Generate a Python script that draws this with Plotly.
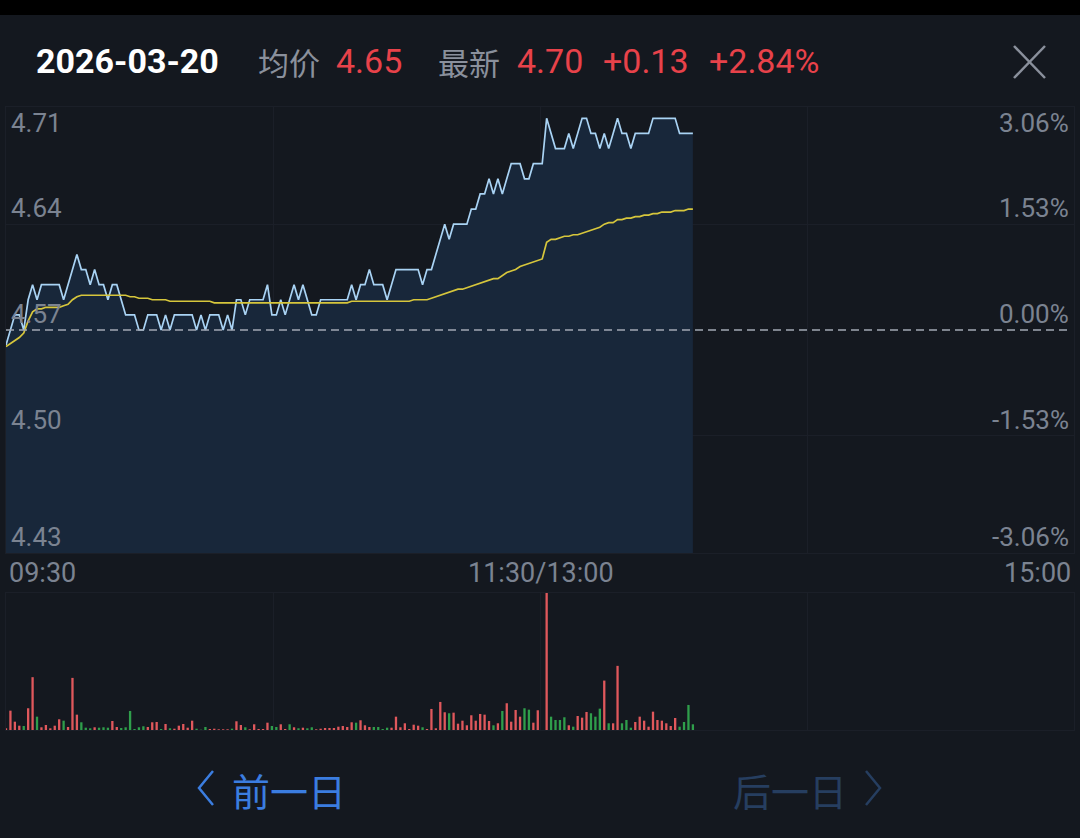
import plotly.graph_objects as go

W, H = 1080, 838


def px(x):
    return x / W


def py(y):
    return 1 - y / H


# ---------------- data ----------------
trade_date = "2026-03-20"
prev_close = 4.57
avg_now = "4.65"
last_price = "4.70"
change_abs = "+0.13"
change_pct = "+2.84%"

left_labels = ["4.71", "4.64", "4.57", "4.50", "4.43"]
right_labels = ["3.06%", "1.53%", "0.00%", "-1.53%", "-3.06%"]
time_labels = ["09:30", "11:30/13:00", "15:00"]

# one value per minute from 09:30 (index 0); 11:30 = 120, 13:00 = 121
price = [
    4.56, 4.57, 4.58, 4.58, 4.57, 4.59, 4.60, 4.59, 4.60, 4.60,
    4.60, 4.60, 4.60, 4.59, 4.60, 4.61, 4.62, 4.61, 4.61, 4.60,
    4.61, 4.60, 4.60, 4.59, 4.60, 4.60, 4.59, 4.58, 4.58, 4.58,
    4.57, 4.57, 4.58, 4.58, 4.58, 4.57, 4.58, 4.57, 4.58, 4.58,
    4.58, 4.58, 4.58, 4.57, 4.58, 4.57, 4.58, 4.58, 4.58, 4.57,
    4.58, 4.57, 4.59, 4.59, 4.58, 4.59, 4.59, 4.59, 4.59, 4.60,
    4.58, 4.58, 4.59, 4.58, 4.59, 4.60, 4.59, 4.60, 4.59, 4.58,
    4.58, 4.59, 4.59, 4.59, 4.59, 4.59, 4.59, 4.59, 4.60, 4.59,
    4.60, 4.60, 4.61, 4.60, 4.60, 4.60, 4.59, 4.60, 4.61, 4.61,
    4.61, 4.61, 4.61, 4.61, 4.60, 4.61, 4.61, 4.62, 4.63, 4.64,
    4.63, 4.64, 4.64, 4.64, 4.64, 4.65, 4.65, 4.66, 4.66, 4.67,
    4.66, 4.67, 4.66, 4.67, 4.68, 4.68, 4.68, 4.67, 4.67, 4.68,
    4.68, 4.68, 4.71, 4.70, 4.69, 4.69, 4.69, 4.70, 4.69, 4.70,
    4.71, 4.71, 4.70, 4.70, 4.69, 4.70, 4.69, 4.70, 4.71, 4.70,
    4.70, 4.69, 4.70, 4.70, 4.70, 4.70, 4.71, 4.71, 4.71, 4.71,
    4.71, 4.71, 4.70, 4.70, 4.70, 4.70,
]

avg_price = [
    4.559, 4.561, 4.563, 4.565, 4.568, 4.576, 4.582, 4.584, 4.584, 4.585,
    4.585, 4.585, 4.585, 4.586, 4.587, 4.590, 4.592, 4.593, 4.593, 4.593,
    4.593, 4.593, 4.593, 4.593, 4.593, 4.593, 4.593, 4.593, 4.592, 4.592,
    4.591, 4.591, 4.591, 4.590, 4.590, 4.590, 4.590, 4.589, 4.589, 4.589,
    4.589, 4.589, 4.589, 4.589, 4.589, 4.589, 4.589, 4.588, 4.588, 4.588,
    4.588, 4.588, 4.588, 4.588, 4.588, 4.588, 4.588, 4.588, 4.588, 4.588,
    4.588, 4.588, 4.588, 4.588, 4.588, 4.588, 4.588, 4.588, 4.588, 4.588,
    4.588, 4.588, 4.588, 4.588, 4.588, 4.588, 4.588, 4.588, 4.589, 4.589,
    4.589, 4.589, 4.589, 4.589, 4.589, 4.589, 4.589, 4.589, 4.589, 4.589,
    4.589, 4.589, 4.590, 4.590, 4.590, 4.590, 4.591, 4.592, 4.593, 4.594,
    4.595, 4.596, 4.597, 4.597, 4.598, 4.599, 4.600, 4.601, 4.602, 4.603,
    4.604, 4.604, 4.606, 4.608, 4.609, 4.610, 4.612, 4.613, 4.614, 4.615,
    4.616, 4.617, 4.628, 4.630, 4.630, 4.631, 4.632, 4.632, 4.633, 4.633,
    4.634, 4.635, 4.636, 4.637, 4.638, 4.640, 4.641, 4.641, 4.643, 4.643,
    4.644, 4.644, 4.645, 4.645, 4.646, 4.646, 4.647, 4.647, 4.648, 4.648,
    4.648, 4.649, 4.649, 4.649, 4.650, 4.650,
]

volume = [
    17, 193, 83, 43, 40, 217, 527, 133, 27, 50,
    17, 43, 107, 93, 30, 520, 153, 77, 23, 17,
    27, 23, 27, 23, 90, 30, 20, 27, 190, 10,
    27, 37, 30, 77, 80, 10, 60, 17, 13, 43,
    60, 23, 93, 13, 3, 30, 10, 13, 7, 7,
    7, 13, 87, 50, 27, 7, 57, 10, 10, 73,
    40, 30, 57, 10, 57, 27, 17, 23, 17, 27,
    7, 13, 20, 20, 20, 33, 40, 30, 77, 73,
    97, 47, 30, 30, 30, 10, 23, 23, 133, 27,
    67, 10, 53, 43, 27, 10, 210, 17, 280, 177,
    167, 173, 63, 93, 47, 147, 93, 160, 153, 90,
    47, 67, 190, 267, 83, 200, 133, 217, 203, 73,
    197, 0, 1367, 133, 100, 100, 127, 47, 33, 140,
    123, 180, 167, 133, 213, 493, 67, 67, 640, 67,
    100, 23, 80, 133, 93, 33, 183, 100, 93, 67,
    40, 120, 33, 80, 250, 57,
]

# R = up minute (red), G = down minute (green)
vol_side = "".join([
    "RRRRGRRGRR", "RRRGRRRGGG", "RGGGRRGGGG", "GGRRRGRGRR", "RRRGGGRRRR",
    "RGRRGRRRRR", "GGRRGRGRGG", "RRRRRRRRRG", "RRRGGGGRRR", "RRRRGRRRRR",
    "GRRRRRRRRR", "GRGRRRRGGR", "RRRGGGGRGR", "RRGGGRGRRG", "GGRRRRRRRR",
    "RRGGGG",
])

minutes = list(range(len(price)))
last_slot = 241  # 242 minute slots: 09:30..11:30 and 13:00..15:00

# ---------------- style ----------------
BG = "#14181f"
GRID = "#1b1f28"
LABEL = "#7b8391"
HEAD_GRAY = "#8a909c"
RED = "#e8424a"
BAR_RED = "#e0585c"
BAR_GREEN = "#2f9e4b"
NUM_FONT = "Roboto, 'DejaVu Sans', sans-serif"
CJK_FONT = "'Noto Sans CJK SC', sans-serif"

half_span = 0.1475

fig = go.Figure()
fig.add_trace(go.Scatter(
    x=minutes, y=price, mode="lines",
    line=dict(color="#a9d3f4", width=1.7),
    fill="tozeroy", fillcolor="#18273a",
    xaxis="x", yaxis="y", hoverinfo="skip",
))
fig.add_trace(go.Scatter(
    x=minutes, y=avg_price, mode="lines",
    line=dict(color="#d6c63c", width=1.7),
    xaxis="x", yaxis="y", hoverinfo="skip",
))
fig.add_trace(go.Bar(
    x=minutes, y=volume,
    marker=dict(color=[BAR_RED if s == "R" else BAR_GREEN for s in vol_side],
                line=dict(width=0)),
    width=0.52, xaxis="x2", yaxis="y2", hoverinfo="skip",
))

grid_x = [last_slot / 4, last_slot / 2, last_slot * 3 / 4]
axis_common = dict(showticklabels=False, zeroline=False, ticks="",
                   showline=True, mirror=True, linecolor=GRID, linewidth=1,
                   gridcolor=GRID, gridwidth=1, fixedrange=True)

fig.update_layout(
    width=W, height=H,
    paper_bgcolor=BG, plot_bgcolor=BG,
    margin=dict(l=0, r=0, t=0, b=0, pad=0),
    showlegend=False,
    hovermode=False,
    xaxis=dict(domain=[px(6), px(1074)], range=[0, last_slot], anchor="y",
               tickvals=grid_x, showgrid=True, **axis_common),
    yaxis=dict(domain=[py(553), py(107)],
               range=[prev_close - half_span, prev_close + half_span],
               anchor="x", tickvals=[prev_close + 0.07, prev_close - 0.07],
               showgrid=True, **axis_common),
    xaxis2=dict(domain=[px(6), px(1074)], range=[0, last_slot], anchor="y2",
                tickvals=grid_x, showgrid=True, **axis_common),
    yaxis2=dict(domain=[py(730), py(593)], range=[0, max(volume)], anchor="x2",
                showgrid=False, **axis_common),
)

shapes = [
    # top status strip
    dict(type="rect", xref="paper", yref="paper", x0=0, x1=1, y0=py(15), y1=1,
         fillcolor="#000000", line=dict(width=0), layer="above"),
    # previous close dashed line
    dict(type="line", xref="paper", yref="y", x0=px(6), x1=px(1070),
         y0=prev_close, y1=prev_close,
         line=dict(color="#a1a8b4", width=1.6, dash="8px,5px"), layer="above"),
    # close icon
    dict(type="line", xref="paper", yref="paper", x0=px(1014), y0=py(46),
         x1=px(1045), y1=py(78), line=dict(color=HEAD_GRAY, width=2.5)),
    dict(type="line", xref="paper", yref="paper", x0=px(1045), y0=py(46),
         x1=px(1014), y1=py(78), line=dict(color=HEAD_GRAY, width=2.5)),
]


def chevron(pts, color):
    path = "M " + " L ".join(f"{px(a):.5f},{py(b):.5f}" for a, b in pts)
    return dict(type="path", xref="paper", yref="paper", path=path,
                line=dict(color=color, width=2.5))


shapes.append(chevron([(213, 771), (199, 788), (213, 805)], "#3b7de0"))
shapes.append(chevron([(866, 771), (880, 788), (866, 805)], "#263e60"))
fig.update_layout(shapes=shapes)

ann = []


def text(t, x, y, size, color, family=NUM_FONT, anchor="left"):
    ann.append(dict(text=t, x=px(x), y=py(y), xref="paper", yref="paper",
                    xanchor=anchor, yanchor="middle", showarrow=False,
                    font=dict(size=size, color=color, family=family)))


# header
text(f"<b>{trade_date}</b>", 34, 61, 34, "#ffffff")
text("均价", 256, 61, 31, HEAD_GRAY, CJK_FONT)
text(avg_now, 334, 61, 34, RED)
text("最新", 436, 61, 31, HEAD_GRAY, CJK_FONT)
text(last_price, 515, 61, 34, RED)
text(change_abs, 601, 61, 34, RED)
text(change_pct, 707, 61, 34, RED)

# axis labels
label_y = [123, 208, 314, 420, 537]
for lab, yy in zip(left_labels, label_y):
    text(lab, 9, yy, 26, LABEL)
for lab, yy in zip(right_labels, label_y):
    text(lab, 1071, yy, 26, LABEL, anchor="right")

text(time_labels[0], 7, 573, 27, LABEL)
text(time_labels[1], 541, 573, 27, LABEL, anchor="center")
text(time_labels[2], 1073, 573, 27, LABEL, anchor="right")

# bottom navigation
text("前一日", 230, 789, 38, "#3b7de0", CJK_FONT)
text("后一日", 731, 789, 38, "#263e60", CJK_FONT)

fig.update_layout(annotations=ann)

fig.write_html(
    "out.html",
    config={"displayModeBar": False, "staticPlot": True},
    post_script="document.body.style.margin='0';"
                "document.body.style.background='#14181f';",
)
